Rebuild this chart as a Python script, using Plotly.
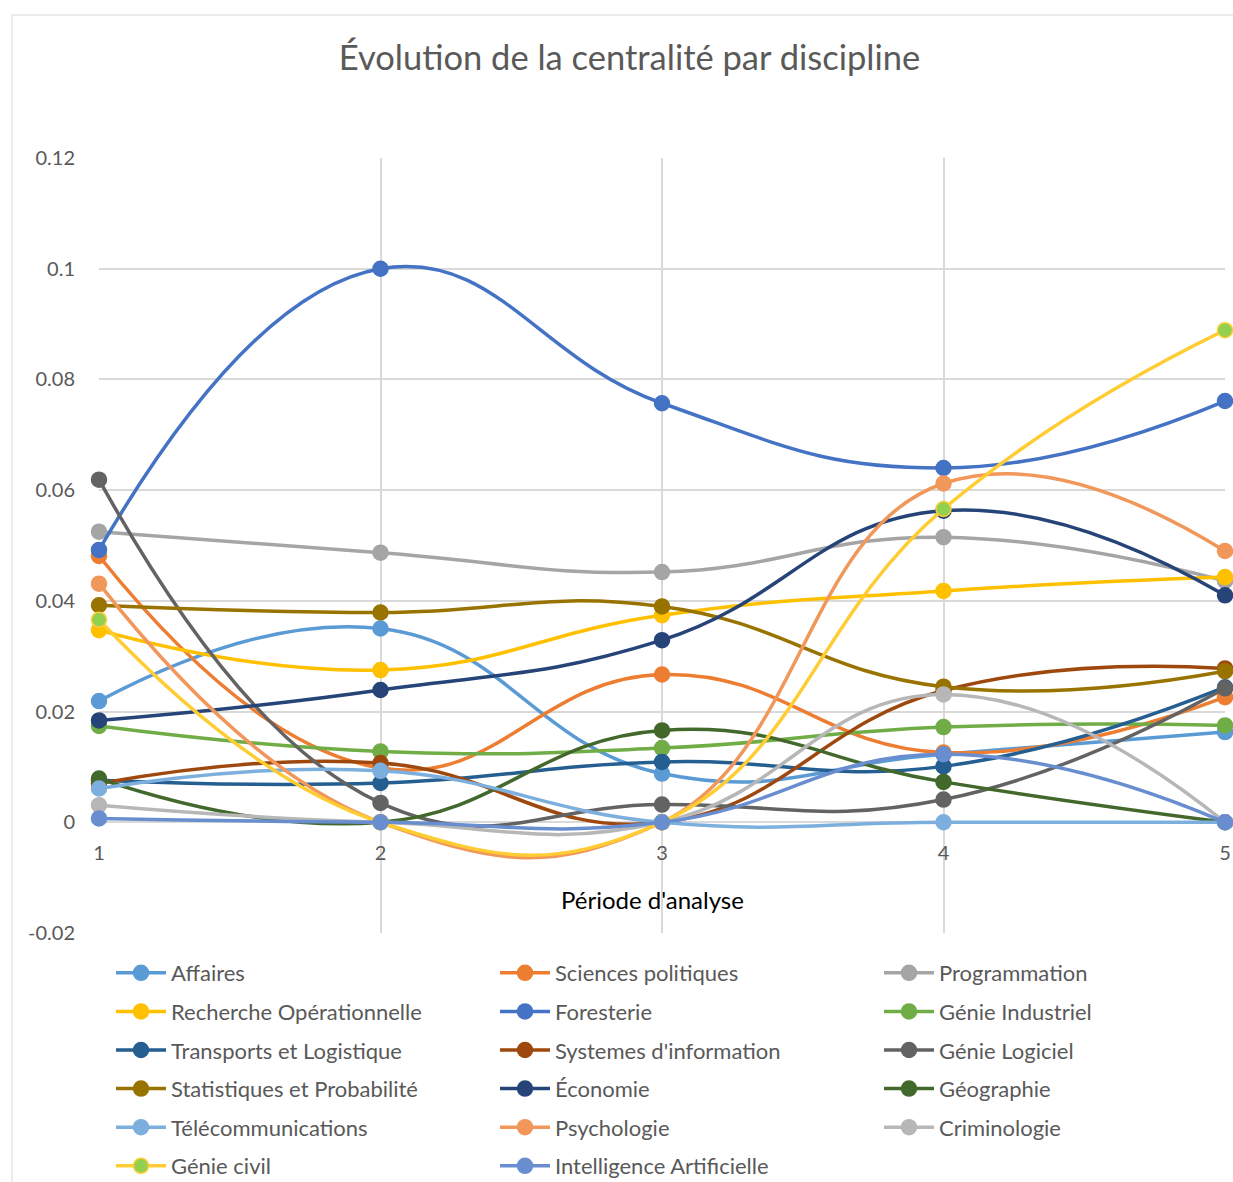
import plotly.graph_objects as go

# Analysis periods (category axis)
periods = [1, 2, 3, 4, 5]
x_ticktext = ["1", "2", "3", "4", "5"]

# Centrality values per discipline, one value per period
affaires = [0.0219, 0.0350, 0.0088, 0.0123, 0.0163]
sciences_politiques = [0.0481, 0.0098, 0.0267, 0.0126, 0.0226]
programmation = [0.0525, 0.0487, 0.0452, 0.0515, 0.0436]
recherche_operationnelle = [0.0347, 0.0275, 0.0374, 0.0418, 0.0443]
foresterie = [0.0492, 0.1000, 0.0757, 0.0640, 0.0761]
genie_industriel = [0.0174, 0.0128, 0.0134, 0.0172, 0.0175]
transports_logistique = [0.0076, 0.0071, 0.0109, 0.0101, 0.0244]
systemes_information = [0.0070, 0.0107, 0.0000, 0.0238, 0.0278]
genie_logiciel = [0.0619, 0.0035, 0.0032, 0.0041, 0.0242]
statistiques_probabilite = [0.0392, 0.0379, 0.0390, 0.0245, 0.0273]
economie = [0.0184, 0.0239, 0.0329, 0.0563, 0.0410]
geographie = [0.0079, 0.0000, 0.0166, 0.0073, 0.0000]
telecommunications = [0.0061, 0.0093, 0.0000, 0.0000, 0.0000]
psychologie = [0.0431, 0.0000, 0.0000, 0.0612, 0.0490]
criminologie = [0.0031, 0.0000, 0.0000, 0.0231, 0.0000]
genie_civil = [0.0366, 0.0000, 0.0000, 0.0566, 0.0889]
intelligence_artificielle = [0.0007, 0.0000, 0.0000, 0.0123, 0.0000]

series_names = [
    "Affaires", "Sciences politiques", "Programmation",
    "Recherche Opérationnelle", "Foresterie", "Génie Industriel",
    "Transports et Logistique", "Systemes d'information", "Génie Logiciel",
    "Statistiques et Probabilité", "Économie", "Géographie",
    "Télécommunications", "Psychologie", "Criminologie",
    "Génie civil", "Intelligence Artificielle",
]
series_values = [
    affaires, sciences_politiques, programmation,
    recherche_operationnelle, foresterie, genie_industriel,
    transports_logistique, systemes_information, genie_logiciel,
    statistiques_probabilite, economie, geographie,
    telecommunications, psychologie, criminologie,
    genie_civil, intelligence_artificielle,
]

# Value axis ticks
y_tickvals = [-0.02, 0, 0.02, 0.04, 0.06, 0.08, 0.10, 0.12]
y_ticktext = ["-0.02", "0", "0.02", "0.04", "0.06", "0.08", "0.1", "0.12"]

line_colors = [
    "#5B9BD5", "#ED7D31", "#A5A5A5",
    "#FFC000", "#4472C4", "#70AD47",
    "#255E91", "#9E480E", "#636363",
    "#997300", "#264478", "#43682B",
    "#7CAFDD", "#F1975A", "#B7B7B7",
    "#FFCD33", "#698ED0",
]
marker_fills = list(line_colors)
marker_fills[15] = "#92D050"  # Génie civil: green dot with gold rim

FONT = "Lato"
TEXT_GREY = "#595959"
GRID = "#D9D9D9"
W, H = 1233, 1182
PLOT_L, PLOT_R, PLOT_T, PLOT_B = 99, 1225, 158, 933
PW, PH = PLOT_R - PLOT_L, PLOT_B - PLOT_T

# Legend laid out as three columns, entries filled row by row
legend_ids = ["legend", "legend2", "legend3"]

fig = go.Figure()
for i, (name, vals, lc, mf) in enumerate(zip(series_names, series_values, line_colors, marker_fills)):
    fig.add_trace(go.Scatter(
        x=periods, y=vals, name=name, mode="lines+markers",
        line=dict(color=lc, width=3.5, shape="spline", smoothing=1.3),
        marker=dict(color=mf, size=15, line=dict(color=lc, width=1.5)),
        cliponaxis=False,
        legend=legend_ids[i % 3], legendgroup=name,
    ))

# Outer chart frame
fig.add_shape(type="rect", xref="paper", yref="paper",
              x0=(12 - PLOT_L) / PW, x1=1.3, y0=-0.5, y1=(PLOT_B - 15) / PH,
              line=dict(color=GRID, width=1), fillcolor="rgba(0,0,0,0)", layer="below")

# Category axis title
fig.add_annotation(text="Période d'analyse", xref="paper", yref="paper",
                   x=(652 - PLOT_L) / PW, y=(PLOT_B - 899) / PH,
                   xanchor="center", yanchor="middle", showarrow=False,
                   font=dict(family=FONT, size=24, color="#000000"))

legend_style = dict(orientation="v", xref="paper", yref="paper",
                    y=(PLOT_B - 952) / PH, yanchor="top", xanchor="left",
                    itemwidth=50, tracegroupgap=7,
                    font=dict(family=FONT, size=22, color=TEXT_GREY),
                    bgcolor="rgba(0,0,0,0)")

fig.update_layout(
    width=W, height=H, autosize=False,
    margin=dict(l=PLOT_L, r=W - PLOT_R, t=PLOT_T, b=H - PLOT_B, autoexpand=False),
    paper_bgcolor="white", plot_bgcolor="white",
    font=dict(family=FONT, color=TEXT_GREY),
    title=dict(text="Évolution de la centralité par discipline",
               x=629.5 / W, xref="container", xanchor="center",
               y=1 - 58 / H, yref="container", yanchor="middle",
               font=dict(family=FONT, size=34.5, color=TEXT_GREY)),
    showlegend=True,
    legend=dict(legend_style, x=(111 - PLOT_L) / PW),
    legend2=dict(legend_style, x=(495 - PLOT_L) / PW),
    legend3=dict(legend_style, x=(879 - PLOT_L) / PW),
    xaxis=dict(range=[1, 5], tickvals=periods, ticktext=x_ticktext,
               showgrid=True, gridcolor=GRID, gridwidth=2,
               zeroline=False, showline=False, ticks="",
               anchor="free", position=(PLOT_B - 822) / PH,
               ticklabelstandoff=17,
               tickfont=dict(family=FONT, size=20, color=TEXT_GREY)),
    yaxis=dict(range=[-0.02, 0.12], tickvals=y_tickvals, ticktext=y_ticktext,
               showgrid=True, gridcolor=GRID, gridwidth=2,
               zeroline=False, showline=False, ticks="",
               ticklabelstandoff=23,
               tickfont=dict(family=FONT, size=20, color=TEXT_GREY)),
)

fig.write_html("out.html")
